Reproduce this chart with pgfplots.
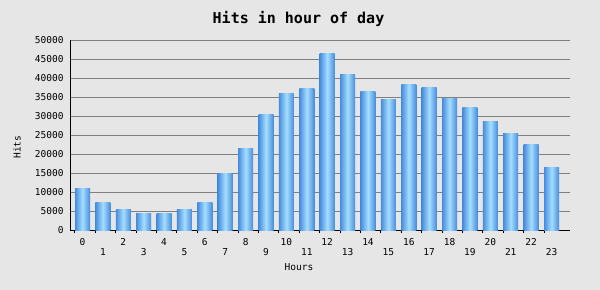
\documentclass[border=0pt]{standalone}
\usepackage{fontspec}
\setmainfont{DejaVu Sans Mono}
\usepackage{pgfplots}
\pgfplotsset{compat=1.18}
\definecolor{bg}{RGB}{230,230,230}
\definecolor{barA}{RGB}{70,140,222}
\definecolor{barB}{RGB}{165,222,255}
\definecolor{gridc}{RGB}{128,128,128}
\pgfplotsset{hbar/.style={ybar, bar width=15bp, bar shift=0pt, draw=none, left color=barA, right color=barA, middle color=barB}}
\begin{document}
\begin{tikzpicture}
\fill[bg] (0,0) rectangle (600bp,290bp);
\begin{axis}[
  at={(70bp,59.7bp)}, anchor=south west,
  scale only axis, width=500bp, height=190bp,
  xmin=-0.613, xmax=23.907, ymin=0, ymax=50000,
  axis x line*=bottom, axis y line*=left,
  axis line style={-, black, line width=1bp},
  ytick={0,5000,...,50000},
  ymajorgrids, grid style={gridc, line width=1bp},
  scaled y ticks=false,
  /pgf/number format/1000 sep={},
  /pgf/number format/assume math mode=true,
  tick label style={font=\fontsize{9.5bp}{11bp}\selectfont, black},
  yticklabel style={xshift=-3bp},
  xtick={0,2,...,22},
  extra x ticks={1,3,...,23},
  extra x tick style={tick label style={yshift=-10bp}},
  major tick length=0pt,
  minor xtick={-0.368,0.632,...,22.7},
  minor tick length=3bp, tick align=outside,
  minor tick style={black, line width=1bp},
  xtick pos=bottom, ytick pos=left,
  xticklabel style={yshift=-5bp},
  title={Hits in hour of day},
  title style={at={(0.457,1)}, anchor=center, yshift=15.3bp, font=\fontsize{15bp}{17bp}\selectfont\bfseries},
  xlabel={Hours},
  xlabel style={at={(axis description cs:0.458,-0.195)}, anchor=center, font=\fontsize{9.5bp}{11bp}\selectfont},
  ylabel={Hits},
  ylabel style={at={(axis description cs:-0.106,0.438)}, anchor=center, font=\fontsize{9.5bp}{11bp}\selectfont},
]
\addplot[hbar] coordinates {(0,11100)};
\addplot[hbar] coordinates {(1,7200)};
\addplot[hbar] coordinates {(2,5600)};
\addplot[hbar] coordinates {(3,4550)};
\addplot[hbar] coordinates {(4,4300)};
\addplot[hbar] coordinates {(5,5600)};
\addplot[hbar] coordinates {(6,7200)};
\addplot[hbar] coordinates {(7,15000)};
\addplot[hbar] coordinates {(8,21400)};
\addplot[hbar] coordinates {(9,30600)};
\addplot[hbar] coordinates {(10,35900)};
\addplot[hbar] coordinates {(11,37200)};
\addplot[hbar] coordinates {(12,46400)};
\addplot[hbar] coordinates {(13,41100)};
\addplot[hbar] coordinates {(14,36400)};
\addplot[hbar] coordinates {(15,34550)};
\addplot[hbar] coordinates {(16,38250)};
\addplot[hbar] coordinates {(17,37450)};
\addplot[hbar] coordinates {(18,34800)};
\addplot[hbar] coordinates {(19,32200)};
\addplot[hbar] coordinates {(20,28750)};
\addplot[hbar] coordinates {(21,25600)};
\addplot[hbar] coordinates {(22,22450)};
\addplot[hbar] coordinates {(23,16400)};
\end{axis}
\end{tikzpicture}
\end{document}
